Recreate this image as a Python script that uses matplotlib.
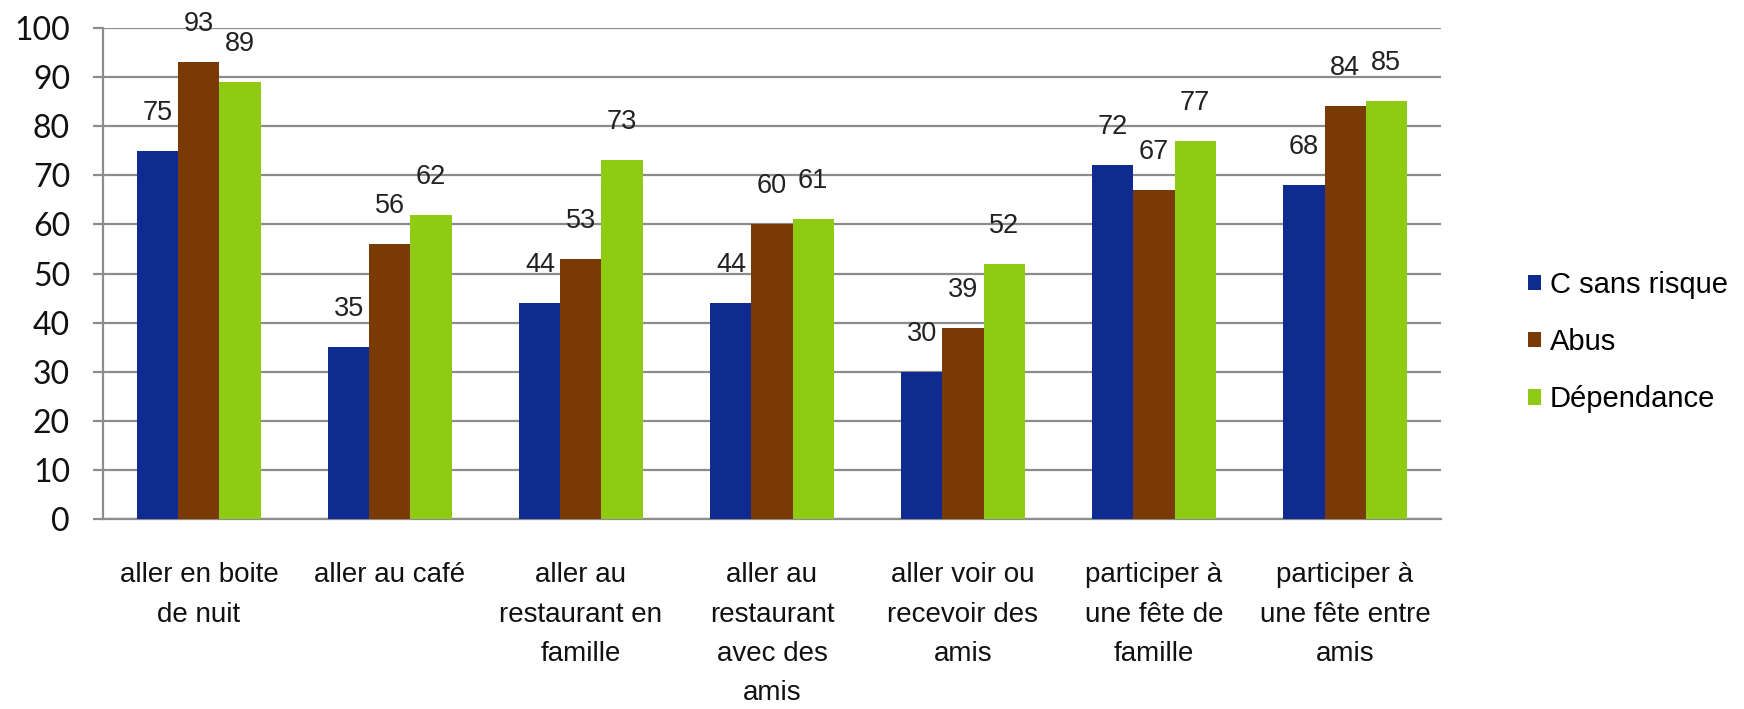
import matplotlib
matplotlib.use("Agg")
import matplotlib.pyplot as plt
import numpy as np
from matplotlib import font_manager

categories = [
    "aller en boite\nde nuit",
    "aller au café",
    "aller au\nrestaurant en\nfamille",
    "aller au\nrestaurant\navec des\namis",
    "aller voir ou\nrecevoir des\namis",
    "participer à\nune fête de\nfamille",
    "participer à\nune fête entre\namis",
]
series_names = ["C sans risque", "Abus", "Dépendance"]
sans_risque = [75, 35, 44, 44, 30, 72, 68]
abus = [93, 56, 53, 60, 39, 67, 84]
dependance = [89, 62, 73, 61, 52, 77, 85]
y_ticks = list(range(0, 101, 10))

colors = ["#0f2b8f", "#7a3a05", "#8fcb12"]

available = {f.name for f in font_manager.fontManager.ttflist}
narrow = "Liberation Sans Narrow" if "Liberation Sans Narrow" in available else "Liberation Sans"
tick_font = "Lato" if "Lato" in available else "DejaVu Sans"

fig = plt.figure(figsize=(17.44, 7.09), dpi=100)
ax = fig.add_axes([0.0593, 0.2674, 0.7667, 0.6936])

x = np.arange(len(categories))
width = 0.215
series = [sans_risque, abus, dependance]
for i, (vals, name, col) in enumerate(zip(series, series_names, colors)):
    pos = x + (i - 1) * width
    bars = ax.bar(pos, vals, width=width, color=col, label=name, zorder=3)
    for b, v in zip(bars, vals):
        ax.annotate(str(v), (b.get_x() + b.get_width() / 2, v),
                    xytext=(0, 18), textcoords="offset points",
                    ha="center", va="bottom", fontsize=19.5,
                    family=narrow, color="#222222")

ax.set_xlim(-0.5, len(categories) - 0.5)
ax.set_ylim(0, 100)
ax.set_yticks(y_ticks)
ax.set_yticklabels([str(t) for t in y_ticks], fontsize=23, family=tick_font, color="#111111")
ax.yaxis.grid(True, color="#8c8c8c", linewidth=1.6, zorder=0)
ax.tick_params(axis="y", length=7, width=1.6, color="#8c8c8c", pad=17)

ax.set_xticks(x)
ax.set_xticklabels(categories, fontsize=20, family=narrow, color="#111111",
                   linespacing=1.66, va="top")
ax.tick_params(axis="x", length=0, pad=31)

for s in ["top", "right"]:
    ax.spines[s].set_visible(False)
ax.spines["left"].set_color("#8c8c8c")
ax.spines["left"].set_linewidth(1.6)
ax.spines["bottom"].set_color("#8c8c8c")
ax.spines["bottom"].set_linewidth(1.6)

leg = fig.legend(loc="upper left", bbox_to_anchor=(0.861, 0.655),
                 frameon=False, prop={"family": narrow, "size": 21},
                 handlelength=0.45, handleheight=0.45, handletextpad=0.3,
                 labelspacing=1.0)

fig.savefig("out.png", dpi=100, facecolor="white")
